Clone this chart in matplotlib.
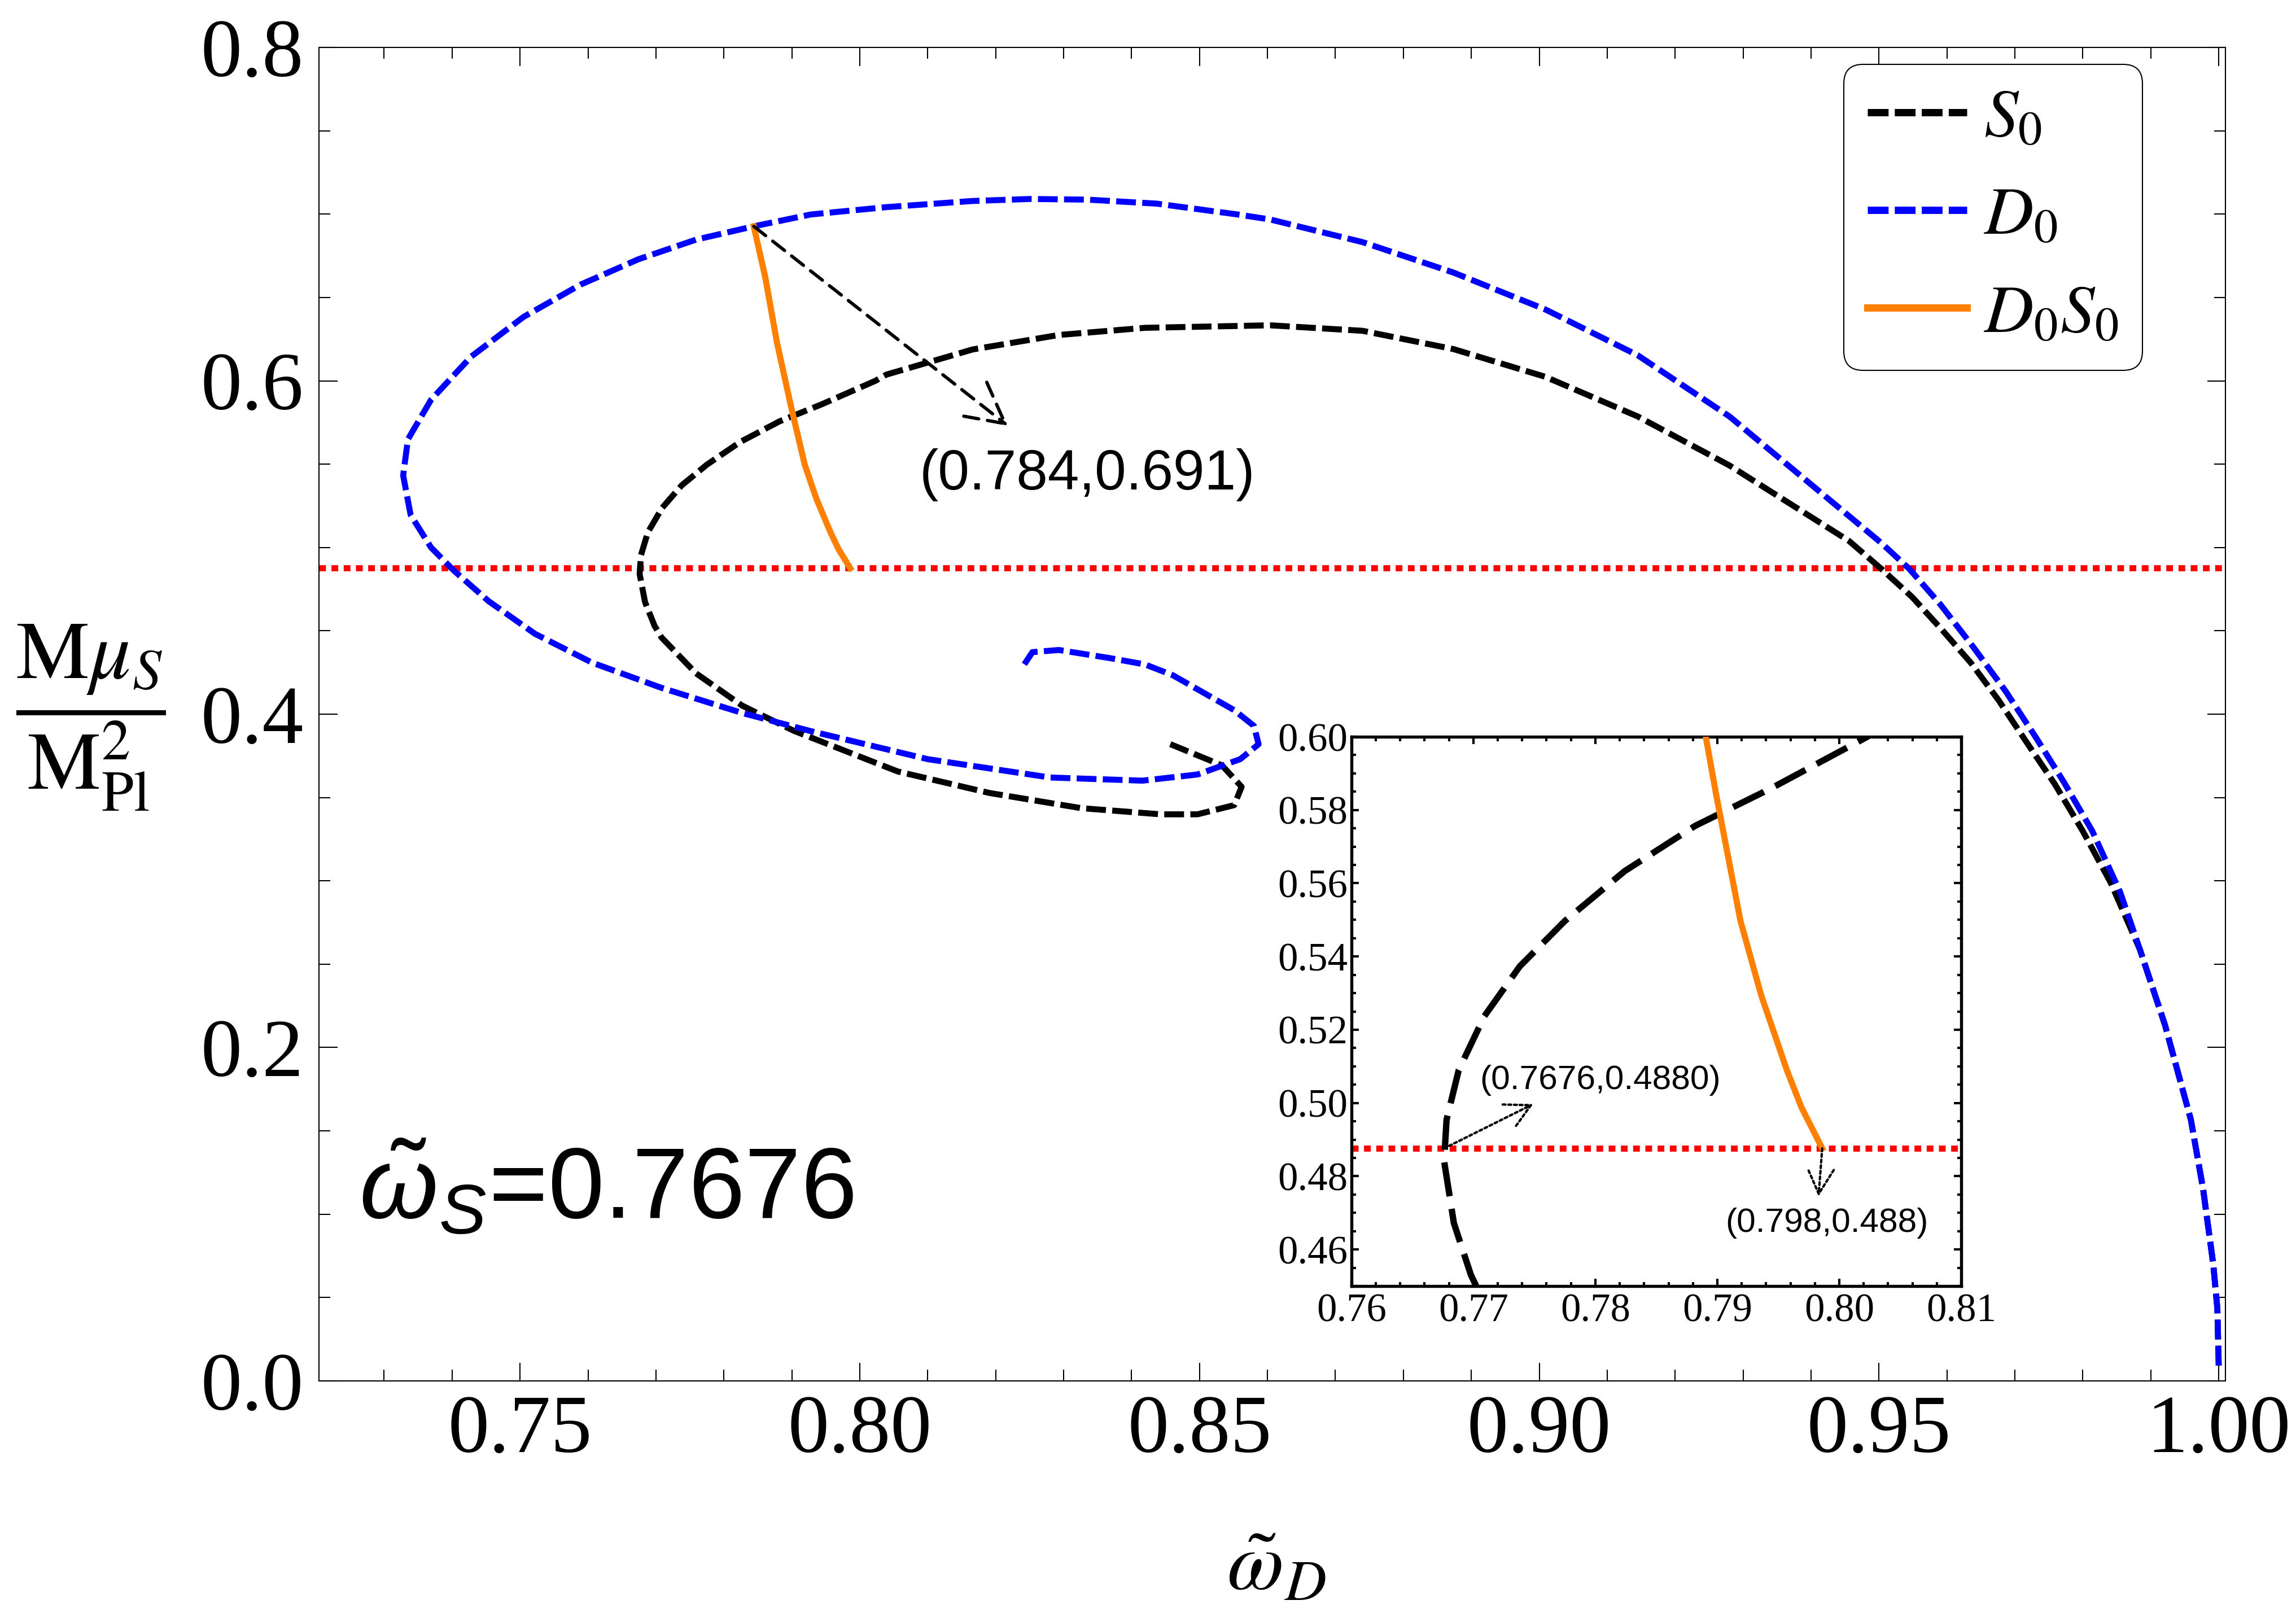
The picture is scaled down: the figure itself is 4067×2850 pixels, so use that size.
import matplotlib
matplotlib.use('Agg')
import matplotlib.pyplot as plt
from matplotlib.lines import Line2D
from matplotlib.ticker import MultipleLocator, FormatStrFormatter
from matplotlib.font_manager import FontProperties

plt.rcParams['font.family'] = ['Liberation Serif', 'DejaVu Serif']
plt.rcParams['mathtext.fontset'] = 'stix'
plt.rcParams['mathtext.rm'] = 'Liberation Sans'
plt.rcParams['mathtext.it'] = 'Liberation Sans:italic'
plt.rcParams['mathtext.bf'] = 'Liberation Sans:bold'

# ---------------- data ----------------
# S0 branch (black dashed), starting at bottom right
s0_x = [1.0000, 0.9998, 0.9992, 0.9977, 0.9959, 0.9921, 0.9884, 0.9841, 0.9800,
        0.9759, 0.9717, 0.9676, 0.9635, 0.9593, 0.9549, 0.9504, 0.9456, 0.9280,
        0.9145, 0.9009, 0.8874, 0.8740, 0.8604, 0.8420, 0.8293, 0.8166, 0.8039,
        0.8023, 0.7944, 0.7882, 0.7824, 0.7775, 0.7738, 0.7709, 0.7688, 0.7678,
        0.7676, 0.7684, 0.7698, 0.7708, 0.7759, 0.7827, 0.7903, 0.8056, 0.8191,
        0.8326, 0.8443, 0.8497, 0.8551, 0.8562, 0.8533, 0.8457]
s0_y = [0.0092, 0.0434, 0.0698, 0.1152, 0.1567, 0.2134, 0.2588, 0.2989, 0.3298,
        0.3579, 0.3833, 0.4084, 0.4309, 0.4505, 0.4702, 0.4870, 0.5039, 0.5492,
        0.5786, 0.6024, 0.6190, 0.6300, 0.6333, 0.6318, 0.6275, 0.6188, 0.6037,
        0.6000, 0.5859, 0.5757, 0.5633, 0.5497, 0.5373, 0.5237, 0.5090, 0.4954,
        0.4841, 0.4672, 0.4530, 0.4461, 0.4245, 0.4051, 0.3900, 0.3656, 0.3527,
        0.3436, 0.3399, 0.3399, 0.3454, 0.3564, 0.3693, 0.3820]

# D0 branch (blue dashed), starting at bottom right
d0_x = [1.0000, 0.9998, 0.9992, 0.9977, 0.9959, 0.9921, 0.9884, 0.9855, 0.9814,
        0.9772, 0.9731, 0.9686, 0.9638, 0.9590, 0.9545, 0.9504, 0.9280, 0.9145,
        0.9009, 0.8874, 0.8740, 0.8604, 0.8556, 0.8437, 0.8335, 0.8251, 0.8166,
        0.8039, 0.7928, 0.7844, 0.7759, 0.7674, 0.7589, 0.7505, 0.7428, 0.7369,
        0.7335, 0.7328, 0.7339, 0.7369, 0.7403, 0.7454, 0.7522, 0.7606, 0.7708,
        0.7827, 0.7928, 0.8100, 0.8280, 0.8416, 0.8497, 0.8560, 0.8587, 0.8580,
        0.8551, 0.8461, 0.8420, 0.8370, 0.8293, 0.8254, 0.8242]
d0_y = [0.0092, 0.0434, 0.0698, 0.1152, 0.1567, 0.2134, 0.2588, 0.2932, 0.3298,
        0.3593, 0.3860, 0.4140, 0.4407, 0.4660, 0.4870, 0.5025, 0.5786, 0.6153,
        0.6428, 0.6649, 0.6832, 0.6968, 0.6998, 0.7063, 0.7087, 0.7091, 0.7079,
        0.7042, 0.6998, 0.6927, 0.6847, 0.6729, 0.6577, 0.6383, 0.6145, 0.5886,
        0.5649, 0.5432, 0.5195, 0.5000, 0.4860, 0.4677, 0.4482, 0.4309, 0.4158,
        0.4007, 0.3898, 0.3730, 0.3620, 0.3601, 0.3638, 0.3730, 0.3820, 0.3930,
        0.4024, 0.4233, 0.4298, 0.4335, 0.4385, 0.4372, 0.4298]

# D0S0 branch (orange solid)
d0s0_x = [0.7844, 0.7861, 0.7878, 0.7899, 0.7919, 0.7936, 0.7957, 0.7969, 0.7986]
d0s0_y = [0.6927, 0.6620, 0.6232, 0.5843, 0.5497, 0.5294, 0.5090, 0.4988, 0.4876]

red_y = 0.4876
omega_s_text = r'$\tilde{\omega}_S$=0.7676'
legend_labels = [r'$S_0$', r'$D_0$', r'$D_0S_0$']

main_xticks = [0.75, 0.80, 0.85, 0.90, 0.95, 1.00]
main_yticks = [0.0, 0.2, 0.4, 0.6, 0.8]

# ---------------- styles ----------------
BLUE = '#0000FF'
ORANGE = '#FF8000'
RED = '#FF0000'

fig = plt.figure(figsize=(4067 / 300, 2850 / 300), dpi=300)
ax = fig.add_axes([0.1389, 0.1418, 0.8304, 0.8287])

ax.plot(s0_x, s0_y, color='black', lw=2.55, dashes=(3.3, 1.05), zorder=3)
ax.plot(d0_x, d0_y, color=BLUE, lw=2.55, dashes=(3.3, 1.05), zorder=4)
ax.plot(d0s0_x, d0s0_y, color=ORANGE, lw=2.6, zorder=5)
ax.axhline(red_y, color=RED, lw=2.6, dashes=(1.1, 0.9), zorder=2)

ax.set_xlim(0.7204, 1.001)
ax.set_ylim(0.0, 0.8)
ax.set_xticks(main_xticks)
ax.set_yticks(main_yticks)
ax.xaxis.set_minor_locator(MultipleLocator(0.01))
ax.yaxis.set_minor_locator(MultipleLocator(0.05))
ax.xaxis.set_major_formatter(FormatStrFormatter('%.2f'))
ax.yaxis.set_major_formatter(FormatStrFormatter('%.1f'))
ax.tick_params(which='both', direction='in', top=True, right=True, width=0.5, colors='black')
ax.tick_params(which='major', length=7.8, labelsize=35)
ax.tick_params(which='minor', length=4.8)
ax.tick_params(axis='x', which='major', pad=6)
ax.tick_params(axis='y', which='major', pad=6.5)
for sp in ax.spines.values():
    sp.set_linewidth(0.5)
    sp.set_color('black')

# annotation in main plot
ax.annotate('', xy=(0.8218, 0.573), xytext=(0.7844, 0.6927),
            arrowprops=dict(arrowstyle='->,head_length=0.85,head_width=0.45',
                            linestyle=(0, (4.6, 2.7)), lw=1.4, color='black',
                            shrinkA=0, shrinkB=0, mutation_scale=20), zorder=6)
ax.text(0.8335, 0.5436, '(0.784,0.691)', ha='center', va='center', fontsize=24,
        family='Liberation Sans', zorder=6)

ax.text(0.7263, 0.0975, omega_s_text, ha='left', va='baseline', fontsize=43,
        family='Liberation Sans', math_fontfamily='custom')

# legend
handles = [Line2D([], [], color='black', lw=3.1, dashes=(2.85, 0.85)),
           Line2D([], [], color=BLUE, lw=3.1, dashes=(2.85, 0.85)),
           Line2D([], [], color=ORANGE, lw=3.1)]
leg = ax.legend(handles, legend_labels, loc='upper left', bbox_to_anchor=(0.8031, 0.96),
                bbox_transform=fig.transFigure, borderaxespad=0, handlelength=1.45,
                handletextpad=0.25, labelspacing=0.52, borderpad=0.35, fancybox=True,
                framealpha=1, edgecolor='black',
                prop=FontProperties(size=29, math_fontfamily='stix'))
leg.get_frame().set_linewidth(0.5)
leg.get_frame().set_boxstyle('round,pad=0,rounding_size=0.28')

# axis labels
fig.text(0.556, 0.0245, r'$\tilde{\omega}_D$', fontsize=35, ha='center', va='center',
         math_fontfamily='stix')
fig.text(0.0396, 0.554, r'$\dfrac{\mathrm{M}\mu_S}{\mathrm{M}_{\mathrm{Pl}}^2}$', fontsize=35,
         ha='center', va='center', math_fontfamily='stix')

# ---------------- inset ----------------
axi = fig.add_axes([0.5886, 0.2007, 0.2656, 0.3414])
axi.set_facecolor('white')
axi.plot(s0_x, s0_y, color='black', lw=2.7, dashes=(5.4, 2.0), zorder=3)
axi.plot(d0s0_x, d0s0_y, color=ORANGE, lw=2.6, zorder=5)
axi.axhline(red_y, color=RED, lw=2.6, dashes=(1.1, 0.9), zorder=2)
axi.set_xlim(0.76, 0.81)
axi.set_ylim(0.45, 0.60)
axi.xaxis.set_major_locator(MultipleLocator(0.01))
axi.xaxis.set_minor_locator(MultipleLocator(0.002))
axi.yaxis.set_major_locator(MultipleLocator(0.02))
axi.yaxis.set_minor_locator(MultipleLocator(0.005))
axi.xaxis.set_major_formatter(FormatStrFormatter('%.2f'))
axi.yaxis.set_major_formatter(FormatStrFormatter('%.2f'))
axi.tick_params(which='both', direction='in', top=True, right=True, width=1.0, colors='black')
axi.tick_params(which='major', length=3.2, labelsize=17)
axi.tick_params(which='minor', length=1.8)
axi.tick_params(axis='x', which='major', pad=3)
axi.tick_params(axis='y', which='major', pad=1.5)
for sp in axi.spines.values():
    sp.set_linewidth(1.3)
    sp.set_color('black')

axi.annotate('', xy=(0.7749, 0.4997), xytext=(0.7676, 0.4876),
             arrowprops=dict(arrowstyle='->,head_length=1.06,head_width=0.56',
                             linestyle=(0, (1.2, 1.2)), lw=1.0, color='black',
                             shrinkA=0, shrinkB=0, mutation_scale=10), zorder=6)
axi.text(0.7804, 0.5062, '(0.7676,0.4880)', ha='center', va='center', fontsize=14.5,
         family='Liberation Sans', zorder=6)
axi.annotate('', xy=(0.7983, 0.4745), xytext=(0.7986, 0.4876),
             arrowprops=dict(arrowstyle='->,head_length=1.06,head_width=0.56',
                             linestyle=(0, (1.2, 1.2)), lw=1.0, color='black',
                             shrinkA=0, shrinkB=0, mutation_scale=10), zorder=6)
axi.text(0.7990, 0.4672, '(0.798,0.488)', ha='center', va='center', fontsize=14.5,
         family='Liberation Sans', zorder=6)

fig.savefig('out.png', dpi=300)
